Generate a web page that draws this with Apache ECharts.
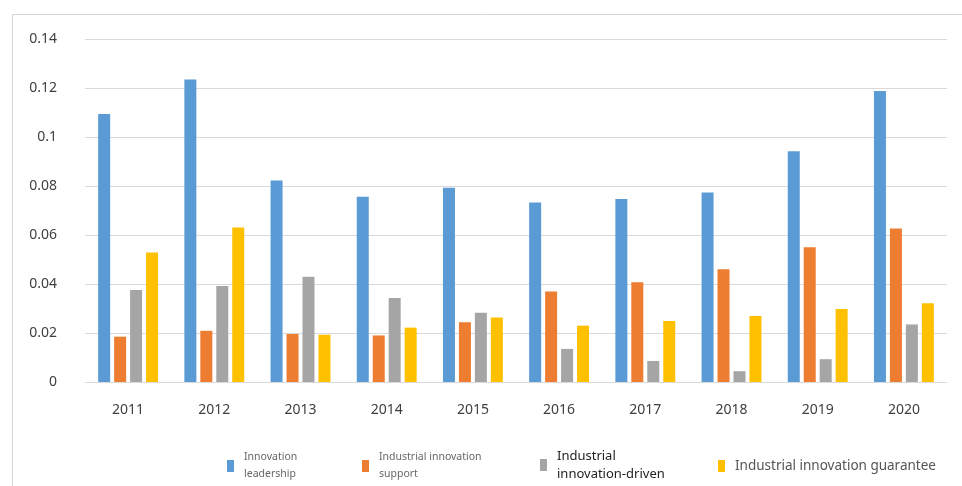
<!DOCTYPE html>
<html><head><meta charset="utf-8">
<script src="https://cdn.jsdelivr.net/npm/echarts@6/dist/echarts.min.js"></script>
<style>html,body{margin:0;padding:0;background:#fff}#c{width:962px;height:486px}</style>
</head><body><div id="c"></div>
<script>
const years = ['2011','2012','2013','2014','2015','2016','2017','2018','2019','2020'];
const leadership = [0.1094,0.1235,0.0822,0.0756,0.0793,0.0733,0.0747,0.0773,0.0942,0.1188];
const support = [0.0185,0.0209,0.0196,0.0190,0.0244,0.0369,0.0407,0.0460,0.0550,0.0627];
const driven = [0.0376,0.0392,0.0430,0.0343,0.0283,0.0135,0.0086,0.0044,0.0093,0.0235];
const guarantee = [0.0529,0.0631,0.0193,0.0222,0.0263,0.0230,0.0249,0.0269,0.0298,0.0321];
const yTicks = [0,0.02,0.04,0.06,0.08,0.1,0.12,0.14];
const names = ['Innovation leadership','Industrial innovation support','Industrial innovation-driven','Industrial innovation guarantee'];
const legendLabels = ['Innovation\nleadership','Industrial innovation\nsupport','Industrial\ninnovation-driven','Industrial innovation guarantee'];
const colors = ['#5B9BD5','#ED7D31','#A5A5A5','#FFC000'];
const values = [leadership, support, driven, guarantee];

const chart = echarts.init(document.getElementById('c'), null, {renderer:'canvas'});
const font = '"Noto Sans", sans-serif';
const legendLeft = [227, 362, 540, 718];
const legendFont = [10.5, 10.5, 13, 13.5];
const legendLH = [17, 17, 18, 20];
const legendTop = [449, 449, 447, 456];
const legendColor = ['#666','#666','#222','#555'];
chart.setOption({
  animation:false,
  backgroundColor:'#fff',
  graphic:[{type:'rect',left:10,top:12,shape:{width:1000,height:520},style:{fill:'none',stroke:'#d6d6d6',lineWidth:1},silent:true}],
  grid:{left:85,right:15,top:39,bottom:104,containLabel:false},
  legend: names.map((n,i)=>({
    left:legendLeft[i], top:legendTop[i], orient:'horizontal', icon:'rect', itemWidth:7, itemHeight:12, itemGap:10,
    data:[n], selectedMode:false, padding:0,
    formatter:()=>legendLabels[i],
    textStyle:{fontFamily:font,fontSize:legendFont[i],color:legendColor[i],lineHeight:legendLH[i],padding:[0,0,0,5]}
  })),
  xAxis:{type:'category',data:years,
    axisLine:{lineStyle:{color:'#d9d9d9'}},axisTick:{show:false},
    axisLabel:{color:'#404040',fontSize:14,fontFamily:font,margin:21}},
  yAxis:{type:'value',min:yTicks[0],max:yTicks[yTicks.length-1],interval:0.02,
    axisLine:{show:false},axisTick:{show:false},
    splitLine:{lineStyle:{color:'#d9d9d9'}},
    axisLabel:{color:'#404040',fontSize:14,fontFamily:font,margin:28,formatter:v=>String(+v.toFixed(2))}},
  series: names.map((n,i)=>({
    name:n,type:'bar',data:values[i],barWidth:12,barGap:'33%',
    itemStyle:{color:colors[i]}
  }))
});
</script></body></html>
